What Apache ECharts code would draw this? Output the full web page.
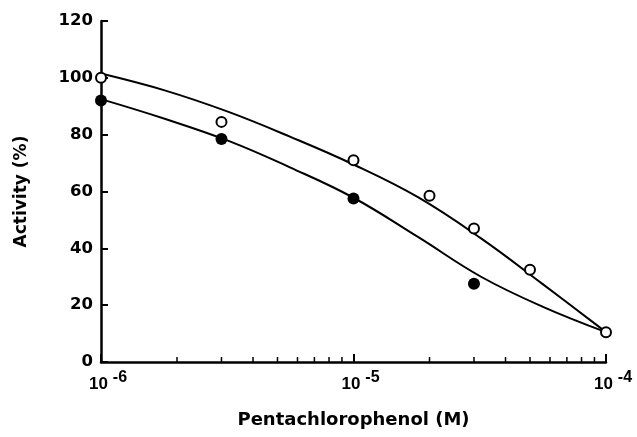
<!DOCTYPE html>
<html>
<head>
<meta charset="utf-8">
<script src="https://cdn.jsdelivr.net/npm/echarts@6/dist/echarts.min.js"></script>
<style>
  html, body { margin: 0; padding: 0; background: #fff; }
  #chart { width: 637px; height: 437px; }
</style>
</head>
<body>
<div id="chart"></div>
<script>
// measured points
const openX = [1e-6, 3e-6, 1e-5, 2e-5, 3e-5, 5e-5, 1e-4]
const openY = [100, 84.5, 71, 58.5, 47, 32.5, 10.5]
const filledX = [1e-6, 3e-6, 1e-5, 3e-5]
const filledY = [92, 78.5, 57.5, 27.5]

// fitted curves at quarter-decade steps
const curveX = [1e-6, 1.8e-6, 3.2e-6, 5.6e-6, 1e-5, 1.8e-5, 3.2e-5, 5.6e-5, 1e-4]
const upperY = [101.5, 95.5, 88, 79.3, 69.5, 58, 43.5, 27.5, 10.5]
const lowerY = [92.5, 85.5, 77.8, 68.5, 57.8, 44, 30, 19.5, 10.5]

// minor ticks on the log axis
const minorTicks = [2e-6, 3e-6, 4e-6, 5e-6, 6e-6, 7e-6, 8e-6, 9e-6,
  2e-5, 3e-5, 4e-5, 5e-5, 6e-5, 7e-5, 8e-5, 9e-5]

const zip = (xs, ys) => xs.map((x, i) => [x, ys[i]])

const font = '"Liberation Sans", Arial, Helvetica, sans-serif'
const wideFont = '"DejaVu Sans", sans-serif'

const chart = echarts.init(document.getElementById('chart'), null, { renderer: 'canvas' })

const options = {
  backgroundColor: '#fff',
  animation: false,
  grid: { left: 101, right: 31, top: 21, bottom: 75, outerBoundsMode: 'none' },
  xAxis: {
    type: 'log',
    logBase: 10,
    min: 1e-6,
    max: 1e-4,
    name: 'Pentachlorophenol (M)',
    nameLocation: 'middle',
    nameGap: 49,
    nameTextStyle: { fontFamily: wideFont, fontWeight: 'bold', fontSize: 18, color: '#000' },
    axisLine: { lineStyle: { color: '#000', width: 2.5 } },
    axisTick: { inside: true, length: 8, lineStyle: { color: '#000', width: 2 } },
    splitLine: { show: false },
    axisLabel: {
      margin: 8,
      formatter: (v) => '{b|10}{s|' + Math.round(Math.log10(v)) + '}',
      rich: {
        b: { fontFamily: font, fontWeight: 'bold', fontSize: 17, color: '#000', padding: [0, 5, 0, 14] },
        s: { fontFamily: font, fontWeight: 'bold', fontSize: 16, color: '#000', padding: [0, 0, 12, 0] }
      }
    }
  },
  yAxis: {
    type: 'value',
    min: 0,
    max: 120,
    interval: 20,
    name: 'Activity (%)',
    nameLocation: 'middle',
    nameGap: 71,
    nameTextStyle: { fontFamily: wideFont, fontWeight: 'bold', fontSize: 17, color: '#000' },
    axisLine: { show: true, lineStyle: { color: '#000', width: 2.5 } },
    axisTick: { show: true, inside: true, length: 7, lineStyle: { color: '#000', width: 2 } },
    splitLine: { show: false },
    axisLabel: { fontFamily: wideFont, fontWeight: 'bold', fontSize: 16.5, color: '#000', margin: 8 }
  },
  series: [
    {
      type: 'custom',
      silent: true,
      clip: false,
      data: minorTicks.map(v => [v, 0]),
      encode: { x: 0, y: 1 },
      renderItem: (params, api) => {
        const p = api.coord([api.value(0), 0])
        return {
          type: 'line',
          shape: { x1: p[0], y1: p[1], x2: p[0], y2: p[1] - 5 },
          style: { stroke: '#000', lineWidth: 1.5 }
        }
      }
    },
    {
      name: 'upper',
      type: 'line',
      smooth: 0.4,
      symbol: 'none',
      data: zip(curveX, upperY),
      lineStyle: { color: '#000', width: 2 },
      z: 2
    },
    {
      name: 'lower',
      type: 'line',
      smooth: 0.4,
      symbol: 'none',
      data: zip(curveX, lowerY),
      lineStyle: { color: '#000', width: 2 },
      z: 2
    },
    {
      name: 'open',
      type: 'scatter',
      symbol: 'circle',
      symbolSize: 10,
      data: zip(openX, openY),
      itemStyle: { color: '#fff', borderColor: '#000', borderWidth: 2, opacity: 1 },
      z: 5
    },
    {
      name: 'filled',
      type: 'scatter',
      symbol: 'circle',
      symbolSize: 12,
      data: zip(filledX, filledY),
      itemStyle: { color: '#000', opacity: 1 },
      z: 5
    }
  ]
}

chart.setOption(options)
</script>
</body>
</html>
